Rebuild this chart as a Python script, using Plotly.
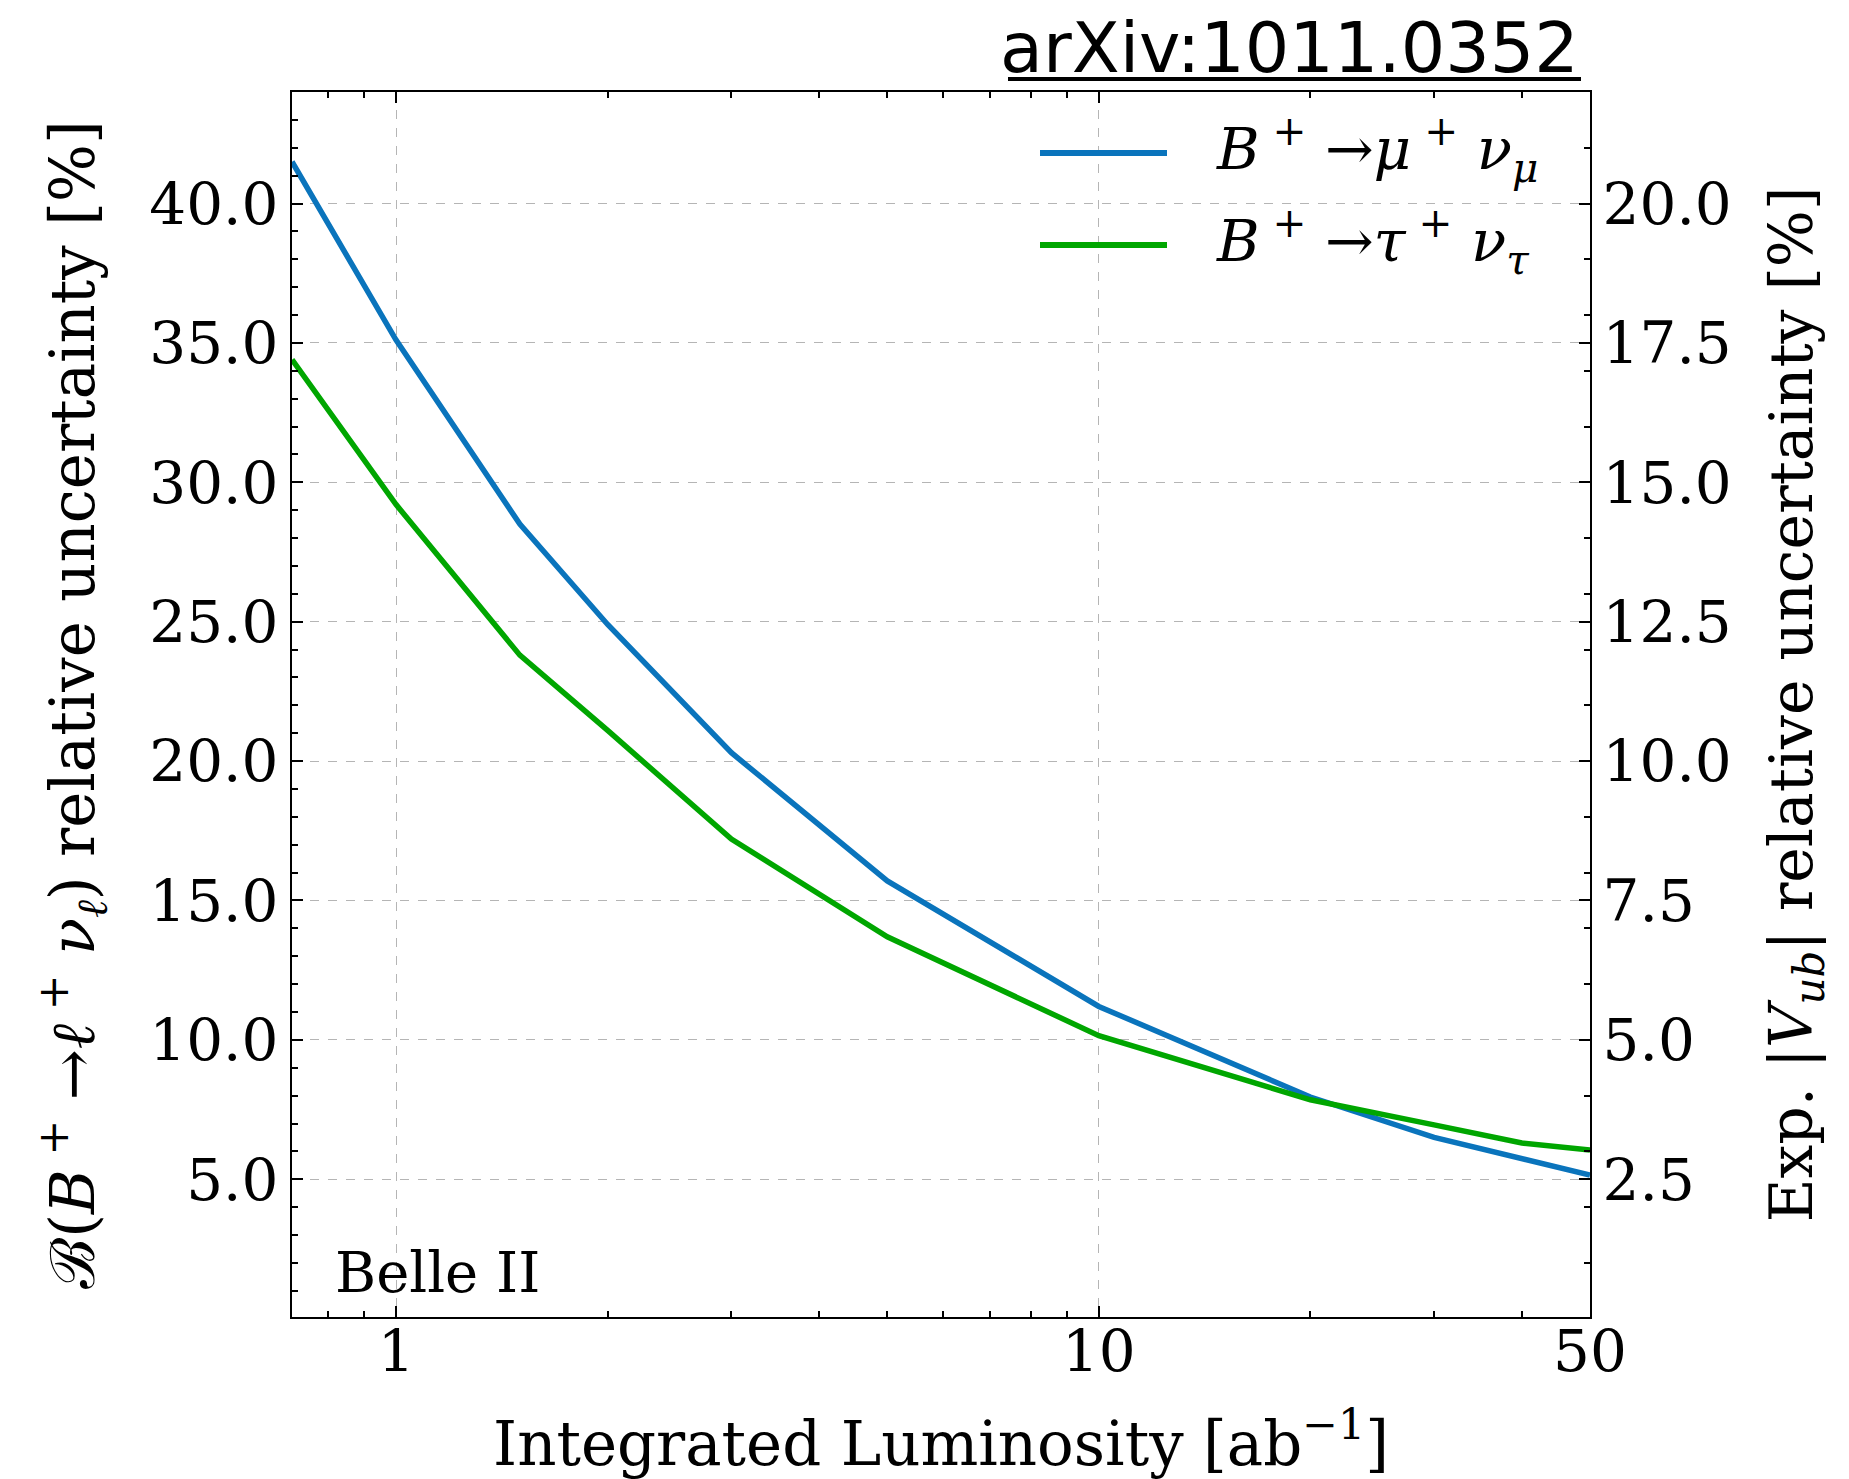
import numpy as np
import plotly.graph_objects as go

# ---- data ----
lumi = [0.711, 1, 1.5, 2, 3, 5, 10, 20, 30, 40, 50]
mu_nu = [41.5, 35.1, 28.5, 24.9, 20.3, 15.7, 11.2, 7.95, 6.5, 5.75, 5.15]
tau_nu = [34.4, 29.2, 23.8, 21.1, 17.2, 13.7, 10.15, 7.85, 6.95, 6.3, 6.05]

x_major = [1, 10, 50]
x_major_text = ["1", "10", "50"]
x_minor = [0.8, 0.9, 2, 3, 4, 5, 6, 7, 8, 9, 20, 30, 40]

names = ["<i>B</i><sup> +</sup> →<i>μ</i><sup> +</sup> <i>ν</i><sub><i>μ</i></sub>",
         "<i>B</i><sup> +</sup> →<i>τ</i><sup> +</sup> <i>ν</i><sub><i>τ</i></sub>"]
colors = ["#0A74BC", "#00A600"]

FONT = "DejaVu Serif"
FS = 58
W, H = 1849, 1479
L, R, T, B = 292, 259, 92, 162
pw, ph = W - L - R, H - T - B


def px(xp):
    return (xp - L) / pw


def py(yp):
    return (H - B - yp) / ph


fig = go.Figure()
for ys, c, n in zip([mu_nu, tau_nu], colors, names):
    fig.add_trace(go.Scatter(x=lumi, y=ys, mode="lines", name=n,
                             line=dict(color=c, width=5.5), showlegend=False))
# right axis (|Vub| = half of BF uncertainty); invisible companion trace
fig.add_trace(go.Scatter(x=lumi, y=[v / 2 for v in mu_nu], yaxis="y2", mode="lines",
                         line=dict(color="rgba(0,0,0,0)"), showlegend=False, hoverinfo="skip"))

grid = dict(showgrid=True, gridcolor="#b5b5b5", gridwidth=1, griddash="dash")

fig.update_layout(
    width=W, height=H,
    margin=dict(l=L, r=R, t=T, b=B, autoexpand=False),
    paper_bgcolor="white", plot_bgcolor="white",
    font=dict(family=FONT, size=FS, color="black"),
    xaxis=dict(type="log", range=[np.log10(0.711), np.log10(50)],
               tickmode="array", tickvals=x_major, ticktext=x_major_text,
               ticks="inside", ticklen=11, tickwidth=2, tickcolor="black",
               showline=True, linecolor="black", linewidth=2, mirror="ticks",
               minor=dict(tickmode="array", tickvals=x_minor, ticks="inside",
                          ticklen=6, tickwidth=1.5, tickcolor="black", showgrid=False),
               ticklabelstandoff=-18, zeroline=False, automargin=False,
               title=dict(text="Integrated Luminosity [ab<sup>−1</sup>]", standoff=40,
                          font=dict(size=61)),
               **grid),
    yaxis=dict(range=[0.06, 44], tick0=0, dtick=5, tickformat=".1f",
               ticks="inside", ticklen=11, tickwidth=2, tickcolor="black",
               showline=True, linecolor="black", linewidth=2, mirror=False,
               minor=dict(dtick=1, ticks="inside", ticklen=6, tickwidth=1.5,
                          tickcolor="black", showgrid=False),
               ticklabelstandoff=0, zeroline=False, automargin=False,
               title=dict(text="ℬ(<i>B</i><sup> +</sup> →<i>ℓ</i><sup> +</sup> <i>ν</i><sub><i>ℓ</i></sub>) relative uncertainty [%]",
                          standoff=35, font=dict(size=61)),
               **grid),
    yaxis2=dict(overlaying="y", side="right", range=[0.03, 22], tick0=0, dtick=2.5,
                tickformat=".1f", ticks="inside", ticklen=11, tickwidth=2, tickcolor="black",
                showline=True, linecolor="black", linewidth=2, showgrid=False,
                minor=dict(dtick=1, ticks="inside", ticklen=6, tickwidth=1.5,
                           tickcolor="black", showgrid=False),
                ticklabelstandoff=-1, zeroline=False, automargin=False,
                title=dict(text="Exp. |<i>V</i><sub><i>ub</i></sub>| relative uncertainty [%]",
                           standoff=39, font=dict(size=60))),
)

# custom legend (long line samples like the reference)
leg_y = [153, 245]
for yy, c, n in zip(leg_y, colors, names):
    fig.add_shape(type="line", xref="paper", yref="paper",
                  x0=px(1040), x1=px(1167), y0=py(yy), y1=py(yy),
                  line=dict(color=c, width=6))
    fig.add_annotation(xref="paper", yref="paper", x=px(1214), y=py(yy - 4),
                       text=n, showarrow=False, xanchor="left", yanchor="middle",
                       font=dict(family=FONT, size=FS, color="black"))

fig.add_annotation(xref="paper", yref="paper", x=px(333), y=py(1272), text="Belle II",
                   showarrow=False, xanchor="left", yanchor="middle",
                   font=dict(family=FONT, size=56, color="black"))

fig.add_annotation(xref="paper", yref="paper", x=px(1581), y=py(48), text="arXiv:1011.0352",
                   showarrow=False, xanchor="right", yanchor="middle",
                   font=dict(family="DejaVu Sans", size=70, color="black"))
fig.add_shape(type="line", xref="paper", yref="paper", x0=px(1008), x1=px(1581),
              y0=py(79), y1=py(79), line=dict(color="black", width=4))

fig.write_html("out.html")
